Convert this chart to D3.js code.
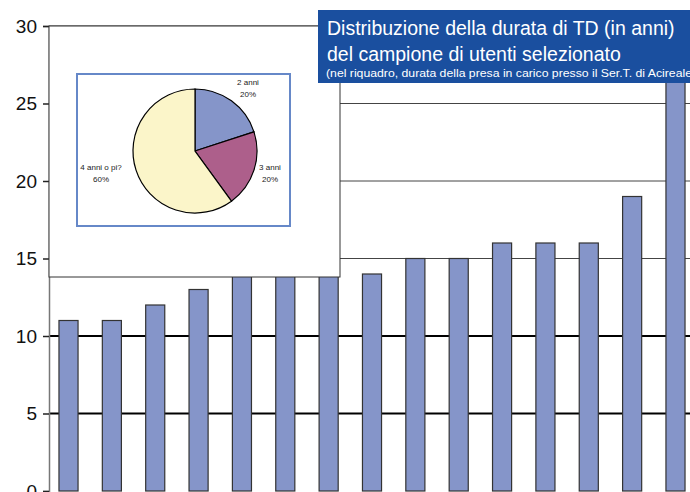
<!DOCTYPE html>
<html lang="it">
  <head>
    <meta charset="utf-8">
    <title>Distribuzione della durata di TD</title>
    <script src="https://d3js.org/d3.v7.js"></script>
    <style>
      body { margin: 0; background: #fff; }
      text { font-family: "Liberation Sans", Arial, sans-serif; }
    </style>
  </head>
  <body>
    <script>

  // width and height
  var w = 690;
  var h = 492;

  // bar data: years of TD for each selected user (sorted)
  var users = d3.range(1, 16);
  var years = [11, 11, 12, 13, 14, 14, 14, 14, 15, 15, 16, 16, 16, 19, 28];
  var yTicks = [0, 5, 10, 15, 20, 25, 30];

  // inset pie: duration of care at Ser.T.
  var pieLabels = ["2 anni", "3 anni", "4 anni o pi?"];
  var pieValues = [20, 20, 60];
  var pieColors = ["#8595c9", "#ad5f8b", "#fbf5c9"];

  var titleLines = [
    "Distribuzione della durata di TD (in anni)",
    "del campione di utenti selezionato"
  ];
  var subtitle = "(nel riquadro, durata della presa in carico presso il Ser.T. di Acireale";

  var svg = d3.select("body")
    .append("svg")
    .attr("width", w)
    .attr("height", h);

  // scales
  var xScale = d3.scaleBand()
    .domain(users)
    .range([49, 695])
    .paddingInner(0.56)
    .paddingOuter(0.23);

  var yScale = d3.scaleLinear()
    .domain([0, 30])
    .range([491, 26]);

  // gridlines (light ones above 10, heavy at 5 and 10)
  svg.append("g")
    .selectAll("line")
    .data(yTicks.filter(d => d > 0))
    .enter()
    .append("line")
    .attr("x1", 49)
    .attr("x2", w)
    .attr("y1", d => yScale(d))
    .attr("y2", d => yScale(d))
    .attr("stroke", d => d <= 10 ? "#000" : "#444")
    .attr("stroke-width", d => d <= 10 ? 2 : 1);

  // bars
  svg.append("g")
    .selectAll("rect")
    .data(years)
    .enter()
    .append("rect")
    .attr("x", (d, i) => xScale(users[i]))
    .attr("y", d => yScale(d))
    .attr("width", xScale.bandwidth())
    .attr("height", d => yScale(0) - yScale(d))
    .attr("fill", "#8595c9")
    .attr("stroke", "#333")
    .attr("stroke-width", 1.2);

  // y axis
  var yAxis = d3.axisLeft(yScale)
    .tickValues(yTicks)
    .tickSize(6)
    .tickPadding(6);

  var ax = svg.append("g")
    .attr("transform", "translate(49,0)")
    .call(yAxis);
  ax.select(".domain").attr("stroke", "#777").attr("stroke-width", 1.5);
  ax.selectAll(".tick line").attr("stroke", "#222").attr("stroke-width", 1.5);
  ax.selectAll(".tick text")
    .attr("fill", "#111")
    .style("font-size", "19px")
    .style("font-family", "'Liberation Sans', Arial, sans-serif");

  // inset panel covering the top-left of the plot
  svg.append("rect")
    .attr("x", 49)
    .attr("y", 26)
    .attr("width", 291)
    .attr("height", 251)
    .attr("fill", "#fff")
    .attr("stroke", "#333")
    .attr("stroke-width", 1);

  svg.append("rect")
    .attr("x", 77)
    .attr("y", 74)
    .attr("width", 213)
    .attr("height", 152)
    .attr("fill", "#fff")
    .attr("stroke", "#6688c8")
    .attr("stroke-width", 2);

  // pie
  var pie = d3.pie().sort(null)(pieValues);
  var arc = d3.arc().innerRadius(0).outerRadius(62);

  var pg = svg.append("g")
    .attr("transform", "translate(195,151)");

  pg.selectAll("path")
    .data(pie)
    .enter()
    .append("path")
    .attr("d", arc)
    .attr("fill", (d, i) => pieColors[i])
    .attr("stroke", "#000")
    .attr("stroke-width", 1.2);

  var labelPos = [[248, 85], [270, 170], [101, 170]];
  var pl = svg.append("g")
    .selectAll("text")
    .data(pieLabels)
    .enter()
    .append("text")
    .attr("x", (d, i) => labelPos[i][0])
    .attr("y", (d, i) => labelPos[i][1])
    .attr("text-anchor", "middle")
    .attr("fill", "#222")
    .style("font-size", "8px");
  pl.append("tspan").text(d => d);
  pl.append("tspan")
    .attr("x", (d, i) => labelPos[i][0])
    .attr("dy", 12)
    .text((d, i) => pieValues[i] + "%");

  // title box
  svg.append("rect")
    .attr("x", 318)
    .attr("y", 10)
    .attr("width", 380)
    .attr("height", 73)
    .attr("fill", "#1a4f9f");

  svg.append("g")
    .selectAll("text")
    .data(titleLines)
    .enter()
    .append("text")
    .attr("x", 327)
    .attr("y", (d, i) => 35 + i * 26)
    .attr("fill", "#fff")
    .style("font-size", "19.5px")
    .text(d => d);

  svg.append("text")
    .attr("x", 326)
    .attr("y", 77)
    .attr("fill", "#fff")
    .attr("textLength", 366)
    .attr("lengthAdjust", "spacingAndGlyphs")
    .style("font-size", "10px")
    .text(subtitle);

    </script>
  </body>
</html>
